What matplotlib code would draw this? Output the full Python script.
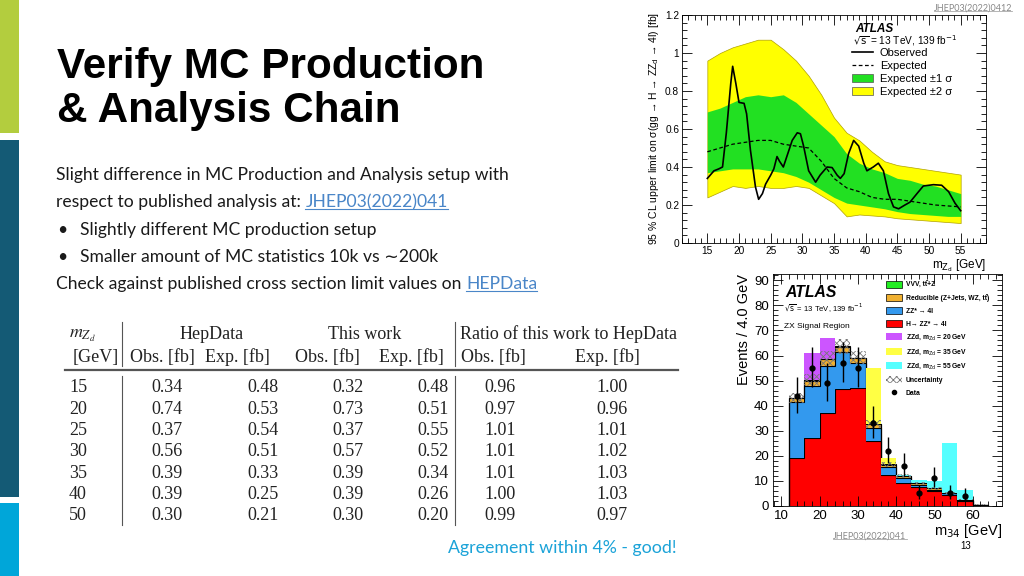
import numpy as np
import matplotlib
matplotlib.use("Agg")
import matplotlib.pyplot as plt
from matplotlib.lines import Line2D
from matplotlib.patches import Patch, Rectangle
from matplotlib.ticker import MultipleLocator

W, H = 1024, 576

# limit plot (top right)
band_mass = [15, 17, 19, 21, 23, 25, 27, 29, 31, 33, 35, 37, 39, 41, 43, 45, 47, 49, 51, 53, 55]
exp_p2 = [0.96, 1.00, 1.03, 1.05, 1.07, 1.07, 1.02, 0.96, 0.88, 0.78, 0.66, 0.58, 0.54, 0.48, 0.43, 0.41, 0.40, 0.39, 0.38, 0.37, 0.36]
exp_p1 = [0.69, 0.71, 0.74, 0.77, 0.78, 0.77, 0.78, 0.74, 0.68, 0.62, 0.56, 0.47, 0.42, 0.39, 0.37, 0.34, 0.33, 0.31, 0.30, 0.28, 0.26]
exp_m1 = [0.37, 0.38, 0.39, 0.39, 0.39, 0.38, 0.37, 0.35, 0.32, 0.28, 0.24, 0.21, 0.20, 0.19, 0.18, 0.165, 0.155, 0.15, 0.145, 0.14, 0.14]
exp_m2 = [0.24, 0.27, 0.30, 0.29, 0.30, 0.29, 0.29, 0.30, 0.29, 0.25, 0.21, 0.14, 0.15, 0.145, 0.14, 0.13, 0.125, 0.12, 0.115, 0.11, 0.105]
exp_limit = [0.48, 0.50, 0.52, 0.53, 0.54, 0.54, 0.52, 0.51, 0.50, 0.43, 0.34, 0.29, 0.27, 0.24, 0.23, 0.23, 0.22, 0.21, 0.20, 0.195, 0.19]
obs_mass = [15, 16.05, 16.8, 17.4, 18.0, 18.7, 19.0, 19.5, 20.0, 20.8, 21.2, 21.8, 22.6, 23.1, 23.7, 24.2,
            25.0, 25.5, 26.0, 26.4, 27.0, 27.6, 28.4, 29.2, 29.7, 30.2, 31.0, 32.1, 32.8, 33.9, 34.7,
            35.5, 36.0, 36.6, 37.3, 38.1, 38.9, 39.7, 40.2, 41.2, 42.0, 42.8, 43.6, 44.4, 45.2, 46.2,
            47.0, 48.1, 49.1, 50.7, 52.0, 53.1, 54.1, 55.0]
obs_limit = [0.34, 0.38, 0.39, 0.40, 0.58, 0.84, 0.93, 0.84, 0.74, 0.735, 0.68, 0.49, 0.295, 0.23, 0.26, 0.31,
             0.357, 0.39, 0.455, 0.43, 0.40, 0.46, 0.54, 0.58, 0.575, 0.51, 0.38, 0.32, 0.357, 0.40, 0.397,
             0.357, 0.34, 0.365, 0.47, 0.54, 0.51, 0.42, 0.38, 0.40, 0.42, 0.38, 0.26, 0.19, 0.18, 0.20,
             0.215, 0.26, 0.30, 0.307, 0.304, 0.27, 0.21, 0.17]

# m34 histogram (bottom right)
m34_edges = [12, 16, 20, 24, 28, 32, 36, 40, 44, 48, 52, 56, 60, 64]
h_zz4l = [19, 27, 37, 46.5, 47, 26, 12.5, 9, 7.5, 6, 4.5, 2, 0.3]
zz_4l = [22.5, 21, 19, 15, 10, 5, 3, 2, 1, 0.5, 0.5, 0.2, 0.1]
reducible = [1.5, 2, 2.5, 2, 2, 1.5, 1, 0.8, 0.5, 0.5, 0.3, 0.3, 0.1]
vvv_ttz = [0.2, 0.2, 0.2, 0.2, 0.2, 0.1, 0.1, 0.1, 0.05, 0.05, 0.05, 0, 0]
bkg_unc = [2, 2.5, 3, 3, 2.5, 1.5, 1, 0.7, 0.5, 0.5, 0.4, 0.3, 0.1]
zzd_20 = [0, 11, 8.3, 0, 0, 0, 0, 0, 0, 0, 0, 0, 0]
zzd_35 = [0, 0, 0, 0, 0, 22.4, 2.4, 0, 0, 0, 0, 0, 0]
zzd_55 = [0, 0, 0, 0, 0, 0, 0, 0.5, 1.5, 3, 19.6, 4, 0]
data_m34 = [14, 18, 22, 26, 30, 34, 38, 42, 46, 50, 54, 58]
data_n = [44, 55, 49, 57, 55, 33, 22, 16, 5, 11, 5, 4]
data_lo = [7, 7.5, 7, 7.5, 7.5, 5.7, 4.7, 4, 2.2, 3.3, 2.2, 1.9]
data_hi = [7.6, 8.5, 8, 8.5, 8.5, 6.8, 5.7, 5, 3.4, 4.4, 3.4, 3.2]

# table
tab_mass = ["15", "20", "25", "30", "35", "40", "50"]
hep_obs = ["0.34", "0.74", "0.37", "0.56", "0.39", "0.39", "0.30"]
hep_exp = ["0.48", "0.53", "0.54", "0.51", "0.33", "0.25", "0.21"]
this_obs = ["0.32", "0.73", "0.37", "0.57", "0.39", "0.39", "0.30"]
this_exp = ["0.48", "0.51", "0.55", "0.52", "0.34", "0.26", "0.20"]
ratio_obs = ["0.96", "0.97", "1.01", "1.01", "1.01", "1.00", "0.99"]
ratio_exp = ["1.00", "0.96", "1.01", "1.02", "1.03", "1.03", "0.97"]

plt.rcParams['font.family'] = ['Liberation Sans', 'DejaVu Sans']

fig = plt.figure(figsize=(10.24, 5.76), dpi=100)
renderer = fig.canvas.get_renderer()


def T(x, y, s, **kw):
    return fig.text(x / W, 1 - y / H, s, **kw)


def add_ax(l, t, r, b):
    return fig.add_axes([l / W, 1 - b / H, (r - l) / W, (b - t) / H])


def underline(t, color, lw=0.8):
    bb = t.get_window_extent(renderer)
    fig.add_artist(Line2D([bb.x0 / W, bb.x1 / W], [(bb.y0 + 1.5) / H] * 2,
                          transform=fig.transFigure, color=color, lw=lw))


def after(t, s, **kw):
    bb = t.get_window_extent(renderer)
    x, y = t.get_position()
    return fig.text(bb.x1 / W, y, s, **kw)


# side bars
for top, bot, col in [(0, 133, '#b3cd3e'), (140, 497, '#145a75'), (503, 576, '#00a6d9')]:
    fig.add_artist(Rectangle((0, 1 - bot / H), 19 / W, (bot - top) / H,
                             transform=fig.transFigure, color=col, lw=0))

# title
T(57, 78, "Verify MC Production", fontsize=30.4, fontweight='bold', va='baseline')
T(57, 122, "& Analysis Chain", fontsize=30.4, fontweight='bold', va='baseline')

body = dict(fontsize=12.6, family=['Lato', 'DejaVu Sans'], va='baseline', color='#1a1a1a')
link_col = '#4a86c8'
T(56, 180, "Slight difference in MC Production and Analysis setup with", **body)
t = T(56, 207, "respect to published analysis at: ", **body)
lk = after(t, "JHEP03(2022)041", **{**body, 'color': link_col})
underline(lk, link_col)
T(57, 235, "•", **body)
T(80, 235, "Slightly different MC production setup", **body)
T(57, 262, "•", **body)
T(80, 262, "Smaller amount of MC statistics 10k vs ∼200k", **body)
t = T(56, 289, "Check against published cross section limit values on ", **body)
lk = after(t, "HEPData", **{**body, 'color': link_col})
underline(lk, link_col)

T(448, 553, "Agreement within 4% - good!", fontsize=12.8, family=['Lato', 'DejaVu Sans'],
  va='baseline', color='#1ba3d8')

# table
tf = dict(family=['Liberation Serif', 'DejaVu Serif'], fontsize=13, va='baseline', color='#222222')
T(69, 338, r"$m_{Z_d}$", math_fontfamily='stix', ha='left', **tf)
T(96, 362, "[GeV]", ha='center', **tf)
T(212, 339, "HepData", ha='center', **tf)
T(365, 339, "This work", ha='center', **tf)
T(569, 339, "Ratio of this work to HepData", ha='center', **tf)
for x, s in [(162, "Obs. [fb]"), (237, "Exp. [fb]"), (327, "Obs. [fb]"), (411, "Exp. [fb]"),
             (493, "Obs. [fb]"), (607, "Exp. [fb]")]:
    T(x, 362, s, ha='center', **tf)
row_base = [392, 413.5, 435, 456, 477.5, 499, 520]
cols = [(167, hep_obs), (263, hep_exp), (348, this_obs), (433, this_exp), (500, ratio_obs), (612, ratio_exp)]
for i, y in enumerate(row_base):
    T(69, y, tab_mass[i], ha='left', **tf)
    for x, vals in cols:
        T(x, y, vals[i], ha='center', **tf)
for x in [122, 455]:
    for y0, y1 in [(322, 366), (376, 525)]:
        fig.add_artist(Line2D([x / W, x / W], [1 - y0 / H, 1 - y1 / H], transform=fig.transFigure,
                              color='#555555', lw=0.8))
fig.add_artist(Line2D([65 / W, 678 / W], [1 - 370 / H] * 2, transform=fig.transFigure,
                      color='#555555', lw=1.6))

# ---- limit plot ----
green, yellow = '#22e022', '#ffff00'
ax1 = add_ax(682, 15, 986, 243)
ax1.fill_between(band_mass, exp_m2, exp_p2, color=yellow, lw=0.5, edgecolor='#b0a000')
ax1.fill_between(band_mass, exp_m1, exp_p1, color=green, lw=0)
ax1.plot(band_mass, exp_limit, color='k', ls=(0, (3, 2)), lw=0.9)
ax1.plot(obs_mass, obs_limit, color='k', lw=1.2)
ax1.set_xlim(11, 59)
ax1.set_ylim(0, 1.2)
ax1.set_xticks([15, 20, 25, 30, 35, 40, 45, 50, 55])
ax1.set_yticks([0, 0.2, 0.4, 0.6, 0.8, 1, 1.2], ["0", "0.2", "0.4", "0.6", "0.8", "1", "1.2"])
ax1.xaxis.set_minor_locator(MultipleLocator(1))
ax1.yaxis.set_minor_locator(MultipleLocator(0.04))
ax1.tick_params(which='both', direction='in', top=True, right=True, labelsize=7.3, width=0.6, pad=2)
ax1.tick_params(which='major', length=7)
ax1.tick_params(which='minor', length=3.5)
for sp in ax1.spines.values():
    sp.set_linewidth(0.6)
ax1.set_ylabel(r"95 % CL upper limit on σ(gg → H → ZZ$_\mathrm{d}$ → 4l) [fb]", fontsize=7.5, labelpad=3)
ax1.set_xlabel(r"m$_{\mathrm{Z_d}}$ [GeV]", fontsize=8.5, loc='right', labelpad=1)
T(855, 32, "ATLAS", fontsize=8.5, fontweight='bold', style='italic', va='baseline')
T(853, 45, r"$\sqrt{\mathrm{s}}$ = 13 TeV, 139 fb$^{-1}$", fontsize=7.3, va='baseline')
ax1.legend(handles=[Line2D([], [], color='k', lw=1.2), Line2D([], [], color='k', ls=(0, (3, 2)), lw=0.9),
                    Patch(fc=green, ec='#555555', lw=0.5), Patch(fc=yellow, ec='#555555', lw=0.5)],
           labels=["Observed", "Expected", "Expected ±1 σ", "Expected ±2 σ"],
           loc='upper left', bbox_to_anchor=(852 / W, 1 - 48 / H), bbox_transform=fig.transFigure,
           frameon=False, fontsize=8, labelspacing=0.27, handlelength=1.9, handletextpad=0.6,
           borderpad=0, borderaxespad=0)
t = T(1012, 8, "JHEP03(2022)0412", fontsize=6.5, family=['Lato', 'DejaVu Sans'], color='#888888',
      ha='right', va='center')
underline(t, '#aaaaaa', 0.6)

# ---- m34 histogram ----
ax2 = add_ax(773, 274, 1002, 506)
lefts = m34_edges[:-1]
stack = [(h_zz4l, '#ff0000'), (zz_4l, '#3399ee'), (reducible, '#f0b030'), (vvv_ttz, '#22ee22')]
bottom = np.zeros(len(lefts))
for vals, col in stack:
    ax2.bar(lefts, vals, width=4, bottom=bottom, align='edge', color=col, lw=0)
    bottom = bottom + np.array(vals)
    ax2.stairs(bottom, m34_edges, color='k', lw=0.8)
total = bottom.copy()
for vals, col in [(zzd_20, '#cc55ff'), (zzd_35, '#ffff44'), (zzd_55, '#55ffff')]:
    ax2.bar(lefts, vals, width=4, bottom=total, align='edge', color=col, lw=0, zorder=1)
unc = np.array(bkg_unc)
plt.rcParams['hatch.linewidth'] = 0.6
ax2.bar(lefts, 2 * unc, width=4, bottom=total - unc, align='edge', fill=False, hatch='xxxxx',
        edgecolor='#777777', lw=0, zorder=3)
ax2.errorbar(data_m34, data_n, yerr=[data_lo, data_hi], fmt='o', color='k', ms=3.5, lw=1,
             capsize=0, zorder=4)
ax2.set_xlim(7.8, 67.7)
ax2.set_ylim(0, 92.5)
ax2.set_xticks([10, 20, 30, 40, 50, 60])
ax2.set_yticks(range(0, 100, 10))
ax2.xaxis.set_minor_locator(MultipleLocator(2))
ax2.yaxis.set_minor_locator(MultipleLocator(2))
ax2.tick_params(which='both', direction='in', top=True, right=True, labelsize=9.5, width=0.6, pad=3)
ax2.tick_params(which='major', length=7)
ax2.tick_params(which='minor', length=3.5)
for sp in ax2.spines.values():
    sp.set_linewidth(0.6)
ax2.set_ylabel("Events / 4.0 GeV", fontsize=10.5, loc='top', labelpad=2)
ax2.set_xlabel(r"m$_{34}$ [GeV]", fontsize=10.5, loc='right', labelpad=0)
T(785, 297, "ATLAS", fontsize=11.3, fontweight='bold', style='italic', va='baseline')
T(784, 312, r"$\sqrt{\mathrm{s}}$ = 13 TeV, 139 fb$^{-1}$", fontsize=5.5, va='baseline')
T(784, 328, "ZX Signal Region", fontsize=6, va='baseline')
ax2.legend(handles=[Patch(fc='#22ee22', ec='k', lw=0.5), Patch(fc='#f0b030', ec='k', lw=0.5),
                    Patch(fc='#3399ee', ec='k', lw=0.5), Patch(fc='#ff0000', ec='k', lw=0.5),
                    Patch(fc='#cc55ff', lw=0), Patch(fc='#ffff44', lw=0), Patch(fc='#55ffff', lw=0),
                    Patch(fill=False, hatch='xxxxx', ec='#777777', lw=0),
                    Line2D([], [], marker='o', color='k', ls='none', ms=3)],
           labels=["VVV, tt̄+Z", "Reducible (Z+Jets, WZ, tt̄)", "ZZ* → 4l", "H→ ZZ* → 4l",
                   r"ZZd, m$_{\mathrm{Zd}}$ = 20 GeV", r"ZZd, m$_{\mathrm{Zd}}$ = 35 GeV",
                   r"ZZd, m$_{\mathrm{Zd}}$ = 55 GeV", "Uncertainty", "Data"],
           loc='upper left', bbox_to_anchor=(886 / W, 1 - 281 / H), bbox_transform=fig.transFigure,
           frameon=False, prop=dict(size=4.9, weight='bold'), labelspacing=0.75, handlelength=2.3,
           handleheight=1.2, handletextpad=0.6, borderpad=0, borderaxespad=0)
t = T(870, 536, "JHEP03(2022)041", fontsize=6.5, family=['Lato', 'DejaVu Sans'], color='#888888',
      ha='center', va='center')
underline(t, '#aaaaaa', 0.6)
T(966, 546, "13", fontsize=7, ha='center', va='center')

fig.savefig("out.png", dpi=100)
